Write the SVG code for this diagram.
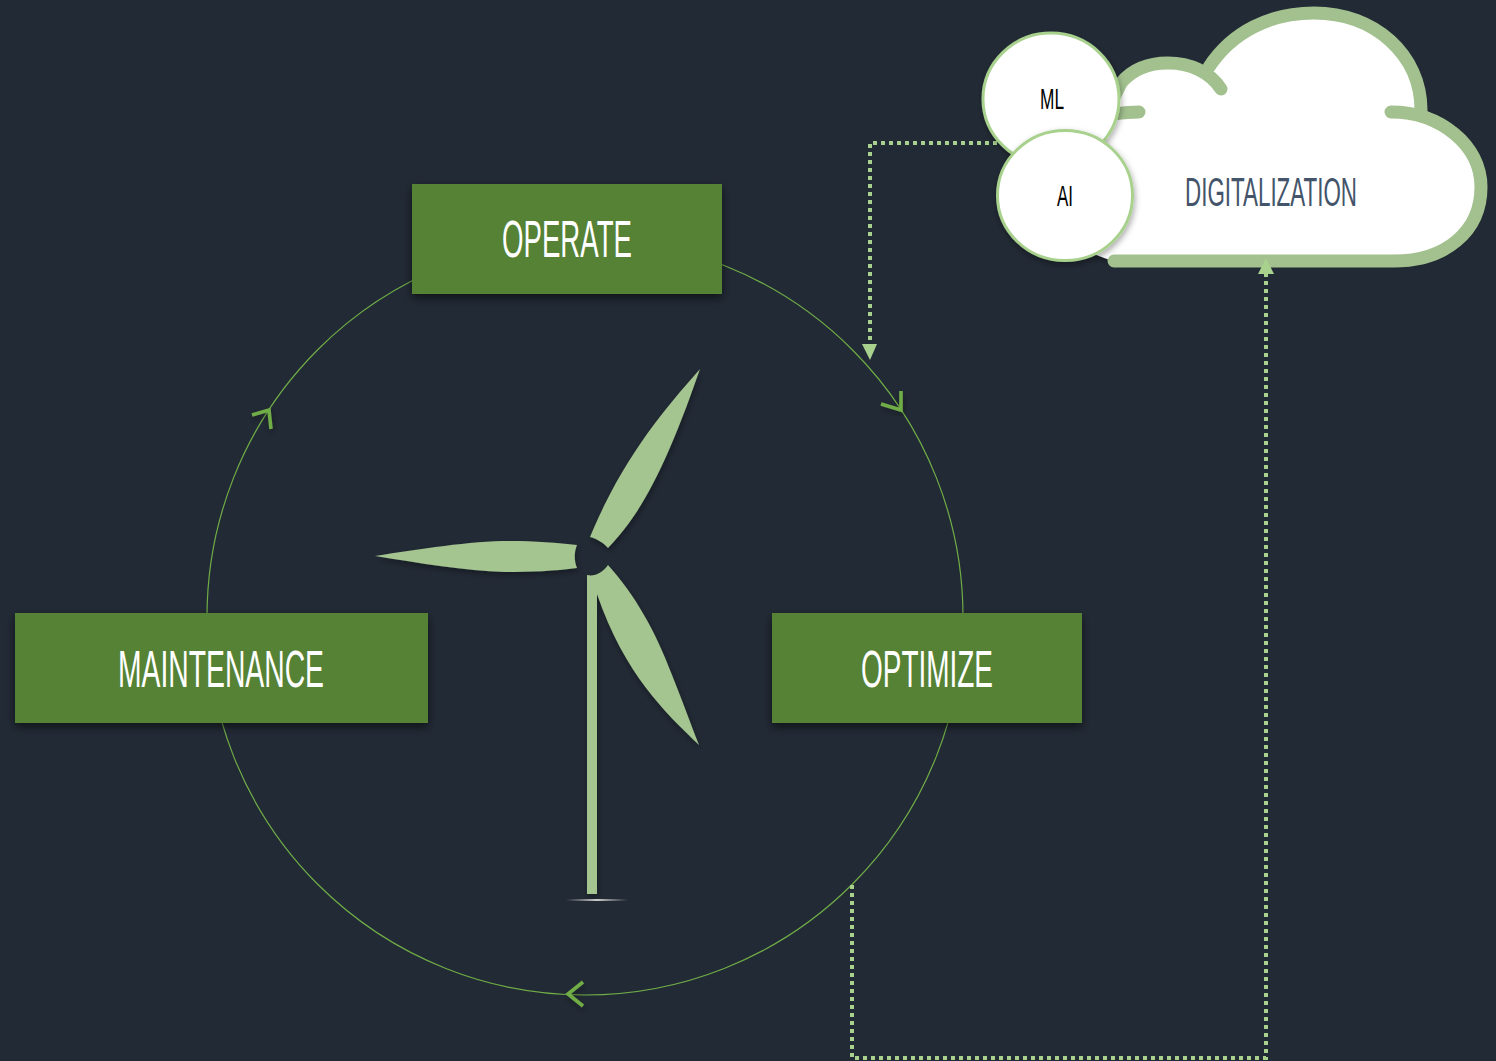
<svg xmlns="http://www.w3.org/2000/svg" width="1496" height="1061" viewBox="0 0 1496 1061">
<style>
.box{fill:#548235;filter:url(#shadow)}
.label{font-family:"Liberation Sans","Roboto",sans-serif;fill:#fff;text-anchor:start}
.big{font-size:51.5px}
.circ{fill:#fff;stroke:#A9D18E;stroke-width:3;filter:url(#soft)}
.small{font-size:30px;fill:#000}
.dot{fill:none;stroke:#A9D18E;stroke-width:4;stroke-dasharray:4 4}
.tip{fill:#A9D18E}
.chev{fill:none;stroke:#70AD47;stroke-width:3.6;filter:url(#soft)}
.blade{fill:#A5C590;filter:url(#soft)}
.cl{fill:none;stroke:#A2C18F;stroke-width:13;stroke-linecap:round}
</style>
<defs>
<filter id="shadow" x="-10%" y="-20%" width="120%" height="150%"><feDropShadow dx="0" dy="4" stdDeviation="5" flood-color="#000" flood-opacity="0.55"/></filter>
<filter id="soft" x="-30%" y="-30%" width="160%" height="160%"><feDropShadow dx="1" dy="3" stdDeviation="3" flood-color="#000" flood-opacity="0.35"/></filter>
<linearGradient id="ground" x1="0" x2="1" y1="0" y2="0"><stop offset="0" stop-color="#bbb" stop-opacity="0"/><stop offset="0.5" stop-color="#ccc"/><stop offset="1" stop-color="#bbb" stop-opacity="0"/></linearGradient>
</defs>
<rect width="1496" height="1061" fill="#222A35"/>
<g id="connectors">
<circle cx="585" cy="617" r="378" fill="none" stroke="#70AD47" stroke-width="1.2"/>
<polyline class="chev" points="881,404 901,410 901,391"/>
<polyline class="chev" points="252,415 269,410 271,429"/>
<polyline class="chev" points="583,982 568,994 583,1006"/>
</g>
<g id="turbine">
<path class="blade" d="M700,369C672,420 640,470 612,510C606,522 600,538 592,556L590,537C604,500 625,470 650,440C668,416 684,392 700,369Z" style="display:none"/>
<path class="blade" d="M700,369C662,412 622,460 590,537C597,539 604,543 608,548C640,515 665,470 700,369Z"/>
<path class="blade" d="M375,556C420,549 470,541 510,541C535,541 558,543 577,545C574,552 574,561 577,568C555,571 530,572 505,572C465,571 420,563 375,556Z"/>
<path class="blade" d="M587,575C595,577 603,572 608,565C635,595 655,630 672,675C682,700 690,722 699,745C665,712 625,675 597,594V894H587Z"/>
<rect x="566" y="899" width="62" height="2" fill="url(#ground)"/>
</g>
<g id="node-operate">
<rect class="box" x="412" y="184" width="310" height="110"/>
<text class="label big" x="502" y="257" textLength="130" lengthAdjust="spacingAndGlyphs">OPERATE</text>
</g>
<g id="node-optimize">
<rect class="box" x="772" y="613" width="310" height="110"/>
<text class="label big" x="861" y="687" textLength="132" lengthAdjust="spacingAndGlyphs">OPTIMIZE</text>
</g>
<g id="node-maintenance">
<rect class="box" x="15" y="613" width="413" height="110"/>
<text class="label big" x="118" y="687" textLength="206" lengthAdjust="spacingAndGlyphs">MAINTENANCE</text>
</g>
<g id="node-digitalization">
<path d="M1114,261H1394C1445,261 1481,232 1481,187C1481,150 1450,118 1421,109C1421,55 1375,13 1314,13C1270,13 1232,32 1209,67C1196,66 1185,63 1168,63C1145,63 1130,72 1121,83C1112,92 1105,105 1105,115C1060,125 1040,160 1040,190C1040,225 1075,250 1114,261Z" fill="#fff" filter="url(#soft)"/>
<path class="cl" d="M1114,261H1394C1445,261 1481,232 1481,187C1481,145 1440,112 1391,112"/>
<path class="cl" d="M1421,110C1421,55 1375,13 1314,13C1270,13 1232,32 1209,67"/>
<path class="cl" d="M1221,89C1210,72 1190,63 1168,63C1145,63 1130,72 1121,83L1105,115"/>
<path class="cl" d="M1139,112C1125,112 1115,114 1105,115"/>
<text class="label" x="1185" y="206" font-size="40" style="fill:#44546A" textLength="172" lengthAdjust="spacingAndGlyphs">DIGITALIZATION</text>
</g>
<g id="dotted">
<path class="dot" d="M1005,143H870V346"/>
<polygon class="tip" points="862,344 877,344 870,360"/>
<path class="dot" d="M852,885V1058H1266V272"/>
<polygon class="tip" points="1258,274 1274,274 1266,258"/>
</g>
<g id="node-ml">
<ellipse class="circ" cx="1051" cy="99" rx="68" ry="66"/>
<text class="label small" x="1040" y="109" textLength="24" lengthAdjust="spacingAndGlyphs">ML</text>
</g>
<g id="node-ai">
<ellipse class="circ" cx="1065" cy="195.500" rx="67.500" ry="65"/>
<text class="label small" x="1057" y="206" textLength="16" lengthAdjust="spacingAndGlyphs">AI</text>
</g>
</svg>
